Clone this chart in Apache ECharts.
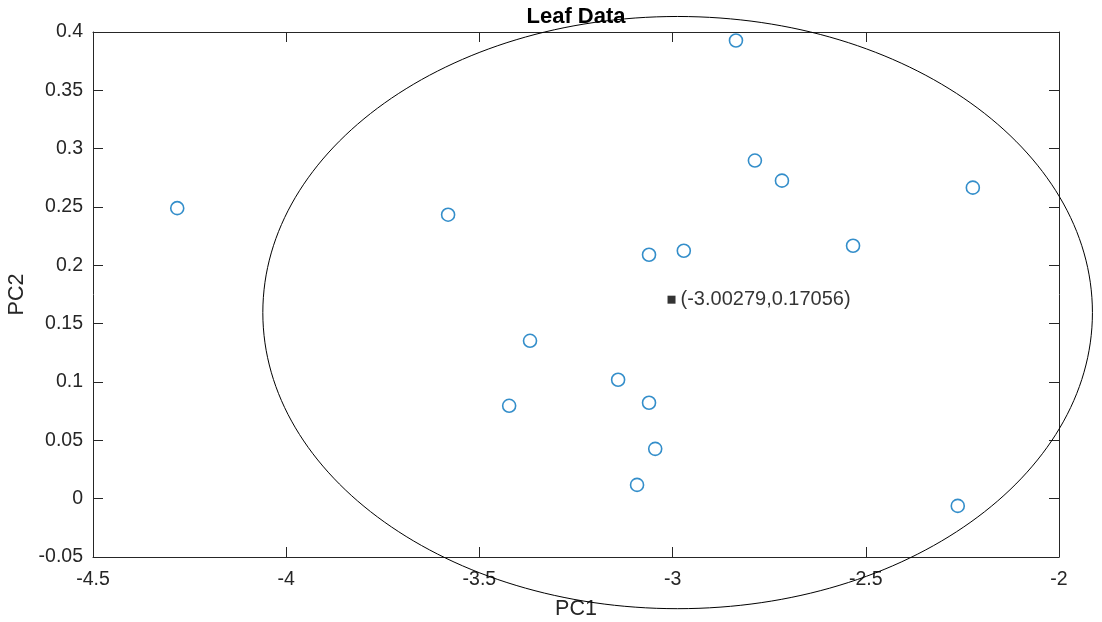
<!DOCTYPE html>
<html>
<head>
<meta charset="utf-8">
<title>Leaf Data</title>
<script src="https://cdn.jsdelivr.net/npm/echarts@6/dist/echarts.min.js"></script>
<style>
  html, body { margin: 0; padding: 0; background: #fff; }
  #chart { width: 1102px; height: 622px; }
</style>
</head>
<body>
<div id="chart"></div>
<script>
// Principal component scores of the leaf samples
const pc1 = [-4.282, -3.581, -3.369, -3.423, -3.141, -3.061, -3.045, -3.092,
             -3.061, -2.971, -2.836, -2.787, -2.717, -2.533, -2.223, -2.262];
const pc2 = [0.249, 0.2434, 0.1353, 0.0796, 0.1019, 0.0822, 0.0427, 0.0118,
             0.2091, 0.2125, 0.3927, 0.2898, 0.2726, 0.2168, 0.2666, -0.0062];

// Centroid of the samples
const centroid = [-3.00279, 0.17056];
const centroidLabel = '(-3.00279,0.17056)';

// Bounding ellipse: centre x, centre y, semi-axis x, semi-axis y
const ellipseParams = [-2.987, 0.1595, 1.0735, 0.2538];

// Axis ranges and tick spacing
const xRange = [-4.5, -2];
const xStep = 0.5;
const yRange = [-0.05, 0.4];
const yStep = 0.05;

const axisColor = '#262626';
const fontFamily = 'Liberation Sans, Arial, Helvetica, sans-serif';

const points = pc1.map((x, i) => [x, pc2[i]]);

const gridBox = { left: 93, right: 43, top: 32, bottom: 65 };
const chartWidth = 1102;

const chart = echarts.init(document.getElementById('chart'), null, { renderer: 'canvas' });

function baseAxis(extra) {
  return Object.assign({
    type: 'value',
    axisLine: { show: true, onZero: false, lineStyle: { color: axisColor, width: 1 } },
    axisTick: { show: true, inside: true, length: 10, lineStyle: { color: axisColor, width: 1 } },
    splitLine: { show: false },
  }, extra);
}

const option = {
  animation: false,
  backgroundColor: '#fff',
  title: {
    text: 'Leaf Data',
    // centred over the plotting area
    left: gridBox.left + (chartWidth - gridBox.left - gridBox.right) / 2,
    textAlign: 'center',
    padding: 0,
    top: 6,
    textStyle: { fontFamily, fontSize: 22, fontWeight: 'bold', color: '#000' }
  },
  grid: Object.assign({ containLabel: false, outerBoundsMode: 'none' }, gridBox),
  xAxis: [
    baseAxis({
      min: xRange[0], max: xRange[1], interval: xStep, position: 'bottom',
      name: 'PC1', nameLocation: 'middle', nameGap: 41,
      nameTextStyle: { fontFamily, fontSize: 21.5, color: axisColor },
      axisLabel: { show: true, margin: 13, fontFamily, fontSize: 19.5, color: axisColor }
    }),
    baseAxis({
      min: xRange[0], max: xRange[1], interval: xStep, position: 'top',
      axisLabel: { show: false }
    })
  ],
  yAxis: [
    baseAxis({
      min: yRange[0], max: yRange[1], interval: yStep, position: 'left',
      name: 'PC2', nameLocation: 'middle', nameGap: 60,
      nameTextStyle: { fontFamily, fontSize: 21.5, color: axisColor },
      axisLabel: { show: true, margin: 10, fontFamily, fontSize: 19.5, color: axisColor }
    }),
    baseAxis({
      min: yRange[0], max: yRange[1], interval: yStep, position: 'right',
      axisLabel: { show: false }
    })
  ],
  series: [
    {
      type: 'custom',
      name: 'ellipse',
      clip: false,
      silent: true,
      z: 1,
      data: [ellipseParams],
      encode: { x: 0, y: 1 },
      renderItem: function (params, api) {
        const c = api.coord([api.value(0), api.value(1)]);
        const s = api.size([api.value(2), api.value(3)]);
        return {
          type: 'ellipse',
          shape: { cx: c[0], cy: c[1], rx: s[0], ry: s[1] },
          style: { fill: 'none', stroke: '#000', lineWidth: 1 }
        };
      }
    },
    {
      type: 'scatter',
      name: 'samples',
      data: points,
      symbol: 'circle',
      symbolSize: 13,
      z: 3,
      itemStyle: { color: 'rgba(0,0,0,0)', borderColor: '#0072BD', borderWidth: 1.6 }
    },
    {
      type: 'scatter',
      name: 'centroid',
      data: [centroid],
      symbol: 'rect',
      symbolSize: 8,
      z: 4,
      itemStyle: { color: '#000' },
      label: {
        show: true,
        position: 'right',
        distance: 5,
        formatter: centroidLabel,
        fontFamily,
        fontSize: 20,
        color: '#000'
      }
    }
  ]
};

chart.setOption(option);
</script>
</body>
</html>
